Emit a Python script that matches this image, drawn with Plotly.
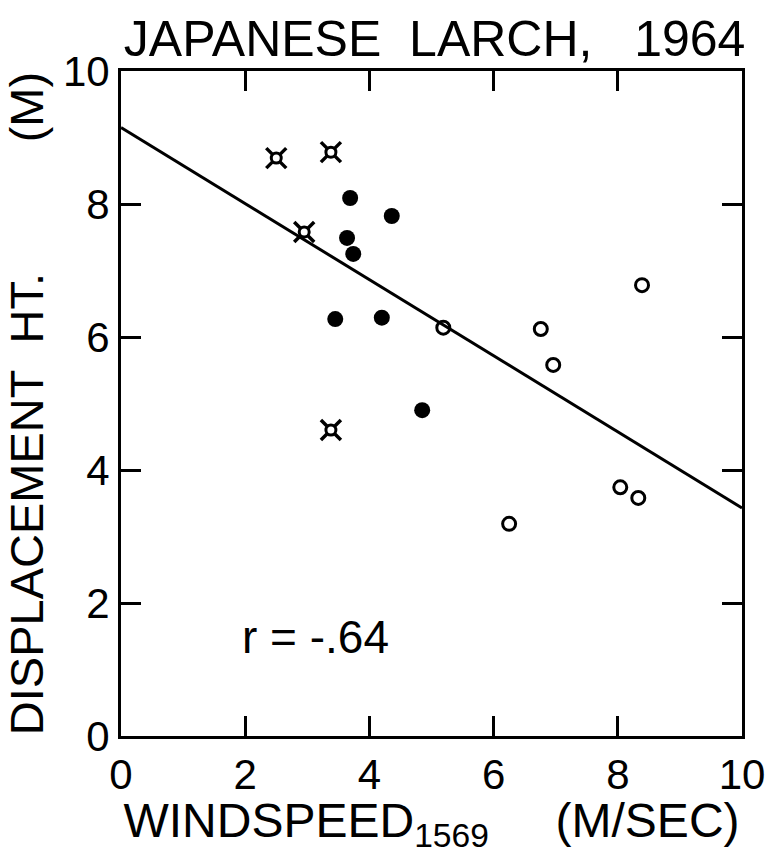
import plotly.graph_objects as go

# Windspeed (m/s) vs displacement height (m), Japanese larch 1964
cross_x = [2.50, 3.38, 2.95, 3.38]
cross_y = [8.69, 8.78, 7.58, 4.60]

filled_x = [3.69, 4.36, 3.64, 3.74, 3.45, 4.20, 4.85]
filled_y = [8.09, 7.82, 7.49, 7.25, 6.27, 6.29, 4.90]

open_x = [5.19, 6.76, 6.96, 8.39, 8.04, 8.33, 6.25]
open_y = [6.14, 6.12, 5.58, 6.78, 3.74, 3.58, 3.19]

# fitted regression line end points
fit_x = [0, 10]
fit_y = [9.15, 3.43]

r_label = "r = -.64"
x_ticks = [0, 2, 4, 6, 8, 10]
y_ticks = [0, 2, 4, 6, 8, 10]

FONT = "Liberation Sans"
INK = "black"
NB = "\u00a0"

fig = go.Figure()

fig.add_trace(go.Scatter(
    x=fit_x, y=fit_y, mode="lines",
    line=dict(color=INK, width=3), hoverinfo="skip",
))
# "¤"-style symbol: diagonal spokes with a ring in the middle
fig.add_trace(go.Scatter(
    x=cross_x, y=cross_y, mode="markers",
    marker=dict(symbol="x-thin", size=20, color=INK,
                line=dict(color=INK, width=3.5)),
))
fig.add_trace(go.Scatter(
    x=cross_x, y=cross_y, mode="markers",
    marker=dict(symbol="circle", size=10, color="white",
                line=dict(color=INK, width=3)),
    hoverinfo="skip",
))
fig.add_trace(go.Scatter(
    x=filled_x, y=filled_y, mode="markers",
    marker=dict(symbol="circle", size=16, color=INK),
))
fig.add_trace(go.Scatter(
    x=open_x, y=open_y, mode="markers",
    marker=dict(symbol="circle-open", size=13, color=INK,
                line=dict(color=INK, width=3)),
))

fig.add_annotation(
    x=1.92, y=1.49, xref="x", yref="y", text=r_label, showarrow=False,
    xanchor="left", yanchor="middle",
    font=dict(family=FONT, size=46, color=INK),
)

axis_common = dict(
    showgrid=False, zeroline=False, showline=True, linecolor=INK,
    linewidth=3, mirror="allticks", ticks="inside", ticklen=20,
    tickwidth=3, tickcolor=INK,
    tickfont=dict(family=FONT, size=42, color=INK),
)

fig.update_layout(
    width=782, height=854,
    margin=dict(l=121, r=40, t=71, b=118),
    paper_bgcolor="white", plot_bgcolor="white",
    showlegend=False,
    title=dict(
        text=f"JAPANESE{NB*2}LARCH,{NB*3}1964",
        x=0.505, xanchor="center", xref="paper",
        y=1 - 38 / 854, yanchor="middle", yref="container",
        font=dict(family=FONT, size=50, color=INK),
    ),
    xaxis=dict(
        range=[0, 10], tickvals=x_ticks, ticktext=[str(v) for v in x_ticks],
        title=dict(
            text=f"WINDSPEED<sub>1569</sub>{NB*5}(M/SEC)",
            font=dict(family=FONT, size=48, color=INK), standoff=4,
        ),
        **axis_common,
    ),
    yaxis=dict(
        range=[0, 10], tickvals=y_ticks, ticktext=[str(v) for v in y_ticks],
        title=dict(
            text=f"DISPLACEMENT{NB*2}HT.{NB*10}(M)",
            font=dict(family=FONT, size=47, color=INK), standoff=10,
        ),
        **axis_common,
    ),
)

fig.write_html("out.html")
